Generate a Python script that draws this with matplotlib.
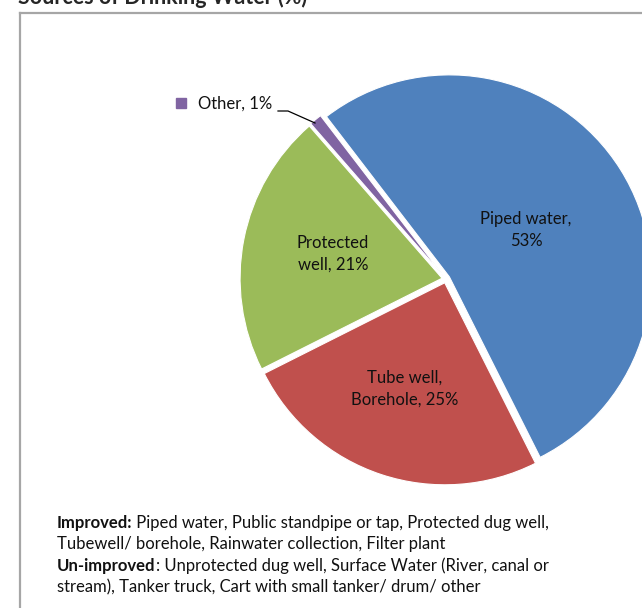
import matplotlib
matplotlib.use("Agg")
import matplotlib.pyplot as plt

# Drinking water sources (%)
categories = ["Piped water,", "Tube well,\nBorehole,", "Protected\nwell,", "Other,"]
label_sep = ["\n", " ", " ", " "]
shares = [53, 25, 21, 1]
colors = ["#4F81BD", "#C0504D", "#9BBB59", "#8064A2"]

title = "Sources of Drinking Water (%)"
notes = [
    [("Improved:", "bold"), (" Piped water, Public standpipe or tap, Protected dug well,", "normal")],
    [("Tubewell/ borehole, Rainwater collection, Filter plant", "normal")],
    [("Un-improved", "bold"), (": Unprotected dug well, Surface Water (River, canal or", "normal")],
    [("stream), Tanker truck, Cart with small tanker/ drum/ other", "normal")],
]

FONT = "Lato"
W, H = 642, 608
fig = plt.figure(figsize=(W / 100, H / 100), dpi=100)
ax = fig.add_axes([0, 0, 1, 1])


def Y(y):
    return H - y


cx, cy, r = 446, 279, 202
wedges, _ = ax.pie(
    shares,
    colors=colors,
    startangle=127.5,
    counterclock=False,
    center=(cx, Y(cy)),
    radius=r,
    explode=[4] * len(shares),
    wedgeprops=dict(edgecolor="white", linewidth=0.8),
)
ax.set_xlim(0, W)
ax.set_ylim(0, H)
ax.set_aspect("auto")
ax.axis("off")

# chart frame
frame_kw = dict(color="#A6A6A6", lw=1.6, solid_capstyle="projecting", clip_on=False)
ax.plot([20, W + 5], [Y(13), Y(13)], **frame_kw)
ax.plot([20, 20], [Y(13), Y(H + 5)], **frame_kw)

# title (sits at the very top edge of the figure)
ax.text(18, Y(4), title, fontsize=15.5, fontweight="bold", family=FONT,
        color="#262626", ha="left", va="baseline")

# data labels inside slices
inside_pos = [(526, 230), (405, 389), (333, 254)]
for i, (x, y) in enumerate(inside_pos):
    ax.text(x, Y(y), f"{categories[i]}{label_sep[i]}{shares[i]}%", fontsize=12,
            family=FONT, color="#111111", ha="center", va="center",
            linespacing=1.45)

# outside label for the small slice
ax.plot([181], [Y(103)], marker="s", ms=6.5, color=colors[3], mec=colors[3])
ax.text(198, Y(104), f"{categories[3]}{label_sep[3]}{shares[3]}%", fontsize=12,
        family=FONT, color="#111111", ha="left", va="center")
ax.plot([278, 288, 315], [Y(111), Y(111), Y(123)], color="black", lw=0.9)

# footnote with bold lead-ins
fig.canvas.draw()
renderer = fig.canvas.get_renderer()
y0, dy = 528, 21.5
for li, parts in enumerate(notes):
    x = 57
    for txt, weight in parts:
        t = ax.text(x, Y(y0 + li * dy), txt, fontsize=12, family=FONT,
                    fontweight=weight, color="#111111", ha="left", va="baseline")
        bb = t.get_window_extent(renderer=renderer)
        x += bb.width

fig.savefig("out.png", dpi=100)
